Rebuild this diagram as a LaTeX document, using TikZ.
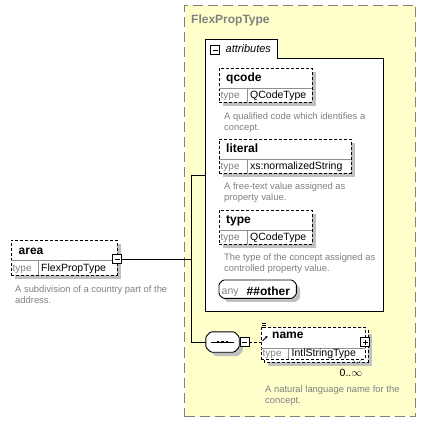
\documentclass[tikz,border=0pt]{standalone}
\usepackage{fontspec}
\setmainfont{Liberation Sans}
\usetikzlibrary{calc,arrows.meta}
\definecolor{ybg}{HTML}{FFFFCC}
\definecolor{ybd}{HTML}{808080}
\definecolor{shd}{HTML}{C0C0C0}
\definecolor{dtxt}{HTML}{808080}
\definecolor{divc}{HTML}{909090}
\tikzset{
  elembox/.style={draw=black, fill=white, line width=0.9pt, dash pattern=on 3pt off 2pt, inner sep=0, anchor=north west},
  shadowfill/.style={fill=shd, draw=none},
  divline/.style={draw=divc, line width=0.8pt},
  nm/.style={font=\fontsize{12}{14}\selectfont\bfseries, anchor=base west, inner sep=0},
  tylbl/.style={font=\fontsize{10}{12}\selectfont, text=dtxt, anchor=base west, inner sep=0},
  tyval/.style={font=\fontsize{10.5}{12}\selectfont, anchor=base west, inner sep=0},
  desc/.style={font=\fontsize{9.4}{11}\selectfont, text=dtxt, anchor=north west, inner sep=0, align=left},
  conn/.style={draw=black, line width=0.9pt},
  iconbox/.style={draw=black, fill=white, line width=0.8pt, minimum size=9pt, inner sep=0},
  octo/.style={draw=black, fill=white, line width=0.9pt, rounded corners=1.2pt},
}
\begin{document}
\begin{tikzpicture}[x=1pt,y=-1pt]
\useasboundingbox (0,0) rectangle (426,422);

% complex type container
\node[fill=ybg, draw=ybd, line width=1pt, dash pattern=on 10pt off 5pt, inner sep=0,
      minimum width=231pt, minimum height=411pt, anchor=north west] (ctype) at (184,5) {};
\node[font=\fontsize{12}{14}\selectfont\bfseries, text=dtxt, anchor=base west, inner sep=0] (ctitle) at (191,24) {FlexPropType};

% attributes group
\node[fill=white, inner sep=0, minimum width=178pt, minimum height=253pt, anchor=north west] (attr) at (205,58) {};
\node[fill=white, inner sep=0, minimum width=72pt, minimum height=19pt, anchor=south west] (attrtab) at (205,58.5) {};
\draw[conn] (attrtab.south west) |- (attrtab.north east) -- (attrtab.south east) -| (attr.south east) -| (attr.north west);
\node[iconbox] (attrminus) at (215,50) {};
\draw[line width=0.8pt] ($(attrminus.center)+(-2.5,0)$) -- ($(attrminus.center)+(2.5,0)$);
\node[font=\fontsize{11}{13}\selectfont\itshape, anchor=base west, inner sep=0] (attrlbl) at (225.5,53) {attributes};

% shadows of elements
\fill[shadowfill] (223,72) rectangle (316,106);
\fill[shadowfill] (223,143) rectangle (355,177);
\fill[shadowfill] (223,214) rectangle (316,248);
\fill[shadowfill] (15,244) rectangle (121,279);
\fill[shadowfill, rounded corners=1.2pt] (227,284) -- (296,284) -- (300,288) -- (300,298) -- (296,302) -- (227,302) -- (223,298) -- (223,288) -- cycle;
\fill[shadowfill, rounded corners=1.2pt] (215,336) -- (238,336) -- (243,341) -- (243,351) -- (238,356) -- (215,356) -- (210,351) -- (210,341) -- cycle;
\fill[shadowfill] (268,334) rectangle (372,366);

% qcode
\node[elembox, minimum width=93pt, minimum height=34pt] (qcode) at (219,68) {};
\draw[divline] (219,88) -- (312,88) (247,88) -- (247,102);
\node[nm] (qcodename) at (226,82) {qcode};
\node[tylbl] (qcodet) at (220.5,99) {type};
\node[tyval] (qcodev) at (250,99) {QCodeType};
\node[desc] (qcoded) at (224,112.2) {A qualified code which identifies a\\concept.};

% literal
\node[elembox, minimum width=132pt, minimum height=34pt] (literal) at (219,139) {};
\draw[divline] (219,159) -- (351,159) (247,159) -- (247,173);
\node[nm] (literalname) at (226,153) {literal};
\node[tylbl] (literalt) at (220.5,170) {type};
\node[tyval] (literalv) at (250,170) {xs:normalizedString};
\node[desc] (literald) at (224,182.2) {A free-text value assigned as\\property value.};

% type
\node[elembox, minimum width=93pt, minimum height=34pt] (typeel) at (219,210) {};
\draw[divline] (219,230) -- (312,230) (247,230) -- (247,244);
\node[nm] (typename) at (226,224) {type};
\node[tylbl] (typet) at (220.5,241) {type};
\node[tyval] (typev) at (250,241) {QCodeType};
\node[desc] (typed) at (224,253.2) {The type of the concept assigned as\\controlled property value.};

% any ##other
\node[inner sep=0, minimum width=77pt, minimum height=18pt, anchor=north west] (anyel) at (219,280) {};
\draw[octo] ($(anyel.north west)+(4,0)$) -- ($(anyel.north east)+(-4,0)$) -- ($(anyel.north east)+(0,4)$)
   -- ($(anyel.south east)+(0,-4)$) -- ($(anyel.south east)+(-4,0)$) -- ($(anyel.south west)+(4,0)$)
   -- ($(anyel.south west)+(0,-4)$) -- ($(anyel.north west)+(0,4)$) -- cycle;
\node[font=\fontsize{10.5}{12}\selectfont, text=dtxt, anchor=base west, inner sep=0] (anylbl) at (221.5,294.5) {any};
\node[nm] (anyname) at (246.5,295) {\#\#other};

% area element
\node[elembox, minimum width=106pt, minimum height=35pt] (area) at (11,240) {};
\draw[divline] (11,260) -- (117,260) (38,260) -- (38,275);
\node[nm] (areaname) at (18.5,255) {area};
\node[tylbl] (areat) at (12.5,272) {type};
\node[tyval] (areav) at (41,272) {FlexPropType};
\node[iconbox] (areaminus) at (117,259) {};
\draw[line width=0.8pt] ($(areaminus.center)+(-2.5,0)$) -- ($(areaminus.center)+(2.5,0)$);
\node[desc] (aread) at (15,285.2) {A subdivision of a country part of the\\address.};

% sequence compositor
\node[inner sep=0, minimum width=33pt, minimum height=20pt] (seq) at (222.5,342) {};
\draw[octo] ($(seq.north west)+(5,0)$) -- ($(seq.north east)+(-5,0)$) -- ($(seq.north east)+(0,5)$)
   -- ($(seq.south east)+(0,-5)$) -- ($(seq.south east)+(-5,0)$) -- ($(seq.south west)+(5,0)$)
   -- ($(seq.south west)+(0,-5)$) -- ($(seq.north west)+(0,5)$) -- cycle;
\draw[line width=0.9pt] ($(seq.center)+(-11.5,0)$) -- ($(seq.center)+(11.5,0)$);
\foreach \dx in {-4.5,0,4.5} \fill ($(seq.center)+(\dx-1.3,-1.4)$) rectangle ($(seq.center)+(\dx+1.3,1.4)$);
\node[iconbox] (seqminus) at (244.5,342) {};
\draw[line width=0.8pt] ($(seqminus.center)+(-2.5,0)$) -- ($(seqminus.center)+(2.5,0)$);

% name element (multiple occurrence)
\draw[fill=white, line width=0.9pt, dash pattern=on 3pt off 2pt] (264,330) rectangle (368,362);
\node[elembox, minimum width=104pt, minimum height=32pt] (nameel) at (261,327) {};
\draw[divline] (261,348) -- (365,348) (288,348) -- (288,359);
\node[nm] (namename) at (272,338.5) {name};
\node[tylbl] (namet) at (262.5,356) {type};
\node[tyval] (namev) at (291.5,356) {IntlStringType};
\draw[line width=0.7pt] (261.5,323.5) -- (266,323.5) (261.5,325.5) -- (266,325.5) (261.5,327.5) -- (266,327.5);
\draw[line width=0.9pt, -{Stealth[length=2.5pt,width=2.5pt]}] (262.5,341) -- (267.5,336);
\node[iconbox] (nameplus) at (365,342) {};
\draw[line width=0.8pt] ($(nameplus.center)+(-2.5,0)$) -- ($(nameplus.center)+(2.5,0)$)
      ($(nameplus.center)+(0,-2.5)$) -- ($(nameplus.center)+(0,2.5)$);
\draw[draw=divc, line width=0.7pt] (353,360) -- (357,364) -- (361,360);
\node[font=\fontsize{10.5}{12}\selectfont, anchor=base, inner sep=0] (namemult) at (351,376) {0..$\infty$};
\node[desc] (named) at (265,385.2) {A natural language name for the\\concept.};

% connectors
\coordinate (jtop) at (191,175);
\coordinate (jbot) at (191,342);
\draw[conn] (areaminus.east) -- (areaminus.east -| jtop);
\draw[conn] (jtop) -- (jbot);
\draw[conn] (jtop) -- (jtop -| attr.west);
\draw[conn] (jbot) -- (seq.west);
\draw[line width=0.9pt, dash pattern=on 3pt off 2pt] (seqminus.east) -- (seqminus.east -| nameel.west);
\end{tikzpicture}
\end{document}
